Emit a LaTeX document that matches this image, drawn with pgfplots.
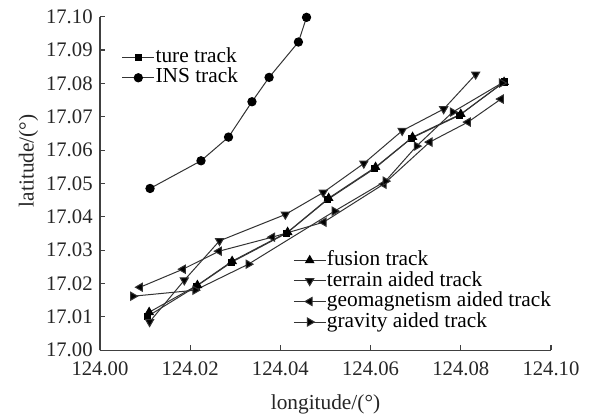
\documentclass[border=0pt]{standalone}
\usepackage{fontspec}
\setmainfont{Liberation Serif}
\usepackage{pgfplots}
\pgfplotsset{compat=1.18}

\pgfplotsset{
  trackaxis/.style={
    scale only axis, width=338pt, height=250pt,
    xmin=124, xmax=124.1, ymin=17, ymax=17.1,
    clip=false,
    every axis plot/.append style={line width=0.75pt, draw=black!80},
    legend style={draw=none, fill=none, font=\fontsize{16}{15}\selectfont,
                  row sep=0pt, inner sep=1pt,
                  nodes={inner sep=0.6pt, text height=11pt, text depth=3.2pt}},
    legend cell align=left,
    legend image code/.code={%
      \draw[mark repeat=2,mark phase=2] plot coordinates {(0cm,0cm) (0.42cm,0cm) (0.84cm,0cm)};},
  },
  blk/.style={mark options={fill=black, draw=black, solid}},
}

\begin{document}
\begin{tikzpicture}
\begin{axis}[trackaxis,
  axis lines=left, axis line style={-, line width=0.8pt, black!75},
  tick style={line width=0.8pt, black!75}, tick align=inside,
  major tick length=4pt,
  xtick={124.00,124.02,124.04,124.06,124.08,124.10},
  ytick={17.00,17.01,17.02,17.03,17.04,17.05,17.06,17.07,17.08,17.09,17.10},
  scaled ticks=false,
  /pgf/number format/fixed, /pgf/number format/fixed zerofill,
  /pgf/number format/precision=2, /pgf/number format/assume math mode=true,
  xticklabel style={yshift=-5pt},
  yticklabel style={xshift=-2pt},
  ticklabel style={font=\fontsize{15.5}{16}\selectfont, text=black!85},
  label style={font=\fontsize{16}{17}\selectfont, text=black!85},
  xlabel={longitude/(°)}, ylabel={latitude/(°)},
  xlabel style={yshift=-7pt}, ylabel style={yshift=-1pt, xshift=17pt},
  legend style={at={(0.045,0.914)}, anchor=north west},
]
\addplot[blk, mark=square*, mark size=2.3pt] coordinates {
  (124.0106,17.0102) (124.0214,17.0192) (124.0292,17.0264) (124.0414,17.0351)
  (124.0505,17.0452) (124.0609,17.0545) (124.0691,17.0636) (124.0798,17.0705)
  (124.0896,17.0804)};
\addplot[blk, mark=*, mark size=3.1pt] coordinates {
  (124.0111,17.0485) (124.0224,17.0568) (124.0285,17.0639) (124.0337,17.0745)
  (124.0375,17.0818) (124.0440,17.0924) (124.0458,17.0998)};
\legend{ture track, INS track}
\path (rel axis cs:-0.2217,-0.198) rectangle (rel axis cs:1.0976,1.05);
\end{axis}

\begin{axis}[trackaxis, hide axis,
  legend style={at={(0.425,0.305)}, anchor=north west},
]
\addplot[blk, mark=triangle*, mark size=3.5pt] coordinates {
  (124.0109,17.0114) (124.0216,17.0195) (124.0293,17.0267) (124.0416,17.0354)
  (124.0507,17.0456) (124.0611,17.0549) (124.0693,17.0639) (124.0800,17.0708)
  (124.0896,17.0804)};
\addplot[blk, mark=triangle*, mark size=3.5pt, mark options={rotate=180}] coordinates {
  (124.0110,17.0085) (124.0187,17.0210) (124.0265,17.0328) (124.0411,17.0407)
  (124.0495,17.0473) (124.0585,17.0560) (124.0670,17.0658) (124.0762,17.0723)
  (124.0833,17.0827)};
\addplot[blk, mark=triangle*, mark size=3.5pt, mark options={rotate=90}] coordinates {
  (124.0089,17.0189) (124.0184,17.0243) (124.0264,17.0297) (124.0382,17.0339)
  (124.0496,17.0384) (124.0629,17.0498) (124.0731,17.0624) (124.0816,17.0684)
  (124.0889,17.0753)};
\addplot[blk, mark=triangle*, mark size=3.5pt, mark options={rotate=270}] coordinates {
  (124.0073,17.0162) (124.0211,17.0180) (124.0329,17.0258) (124.0520,17.0417)
  (124.0633,17.0507) (124.0702,17.0612) (124.0782,17.0714) (124.0891,17.0801)};
\legend{fusion track, terrain aided track, geomagnetism aided track, gravity aided track}
\end{axis}
\end{tikzpicture}
\end{document}
